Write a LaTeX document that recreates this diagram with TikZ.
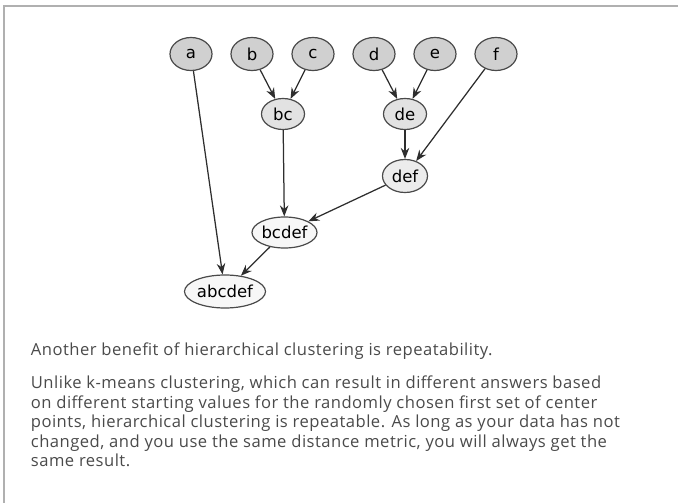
\documentclass[tikz,border=0pt]{standalone}
\usepackage{fontspec}
\setmainfont[LetterSpace=2.9]{Open Sans}
\newfontfamily\graphfont{DejaVu Sans}
\usetikzlibrary{shapes.geometric,arrows.meta}
\definecolor{leaffill}{HTML}{D0D0D0}
\definecolor{midfill}{HTML}{E2E2E2}
\definecolor{highfill}{HTML}{ECECEC}
\definecolor{rootfill}{HTML}{F7F7F7}
\definecolor{rimgray}{HTML}{4A4A4A}
\definecolor{edgegray}{HTML}{2E2E2E}
\definecolor{bodytext}{HTML}{4A4A4A}
\definecolor{framegray}{HTML}{B0B0B0}
\tikzset{
  cluster/.style={ellipse, draw=rimgray, line width=1.2pt, inner sep=0pt,
    font=\graphfont\fontsize{16.5}{17}\selectfont, text=black},
  leaf/.style={cluster, fill=leaffill, minimum width=42pt, minimum height=33pt},
  merge/.style={cluster, minimum height=31pt},
  link/.style={draw=edgegray, line width=1.25pt, -{Stealth[length=11pt,width=8.5pt]}},
  bodyline/.style={anchor=base west, inner sep=0pt, text=bodytext,
    font=\fontsize{16.6}{19.6}\selectfont}
}
\begin{document}
\begin{tikzpicture}[x=1pt,y=-1pt]
  \useasboundingbox (0,0) rectangle (678,503);
  % frame: top and left rules
  \draw[framegray, line width=2pt] (3.5,503) -- (3.5,6.5) -- (678,6.5);

  % leaves
  \node[leaf] (a) at (191,54) {a};
  \node[leaf] (b) at (252,54) {b};
  \node[leaf] (c) at (313,54) {c};
  \node[leaf] (d) at (374,54) {d};
  \node[leaf] (e) at (435,54) {e};
  \node[leaf] (f) at (496,54) {f};

  % merged clusters
  \node[merge, fill=midfill, minimum width=43pt] (bc) at (283,114) {bc};
  \node[merge, fill=midfill, minimum width=43pt] (de) at (405,114) {de};
  \node[merge, fill=highfill, minimum width=45pt, minimum height=33pt] (def) at (405,176) {def};
  \node[merge, fill=rootfill, minimum width=65pt] (bcdef) at (284.5,232.5) {bcdef};
  \node[merge, fill=rootfill, minimum width=81pt, minimum height=33pt] (abcdef) at (225,291.5) {abcdef};

  % merge edges
  \draw[link] (b) -- (bc);
  \draw[link] (c) -- (bc);
  \draw[link] (d) -- (de);
  \draw[link] (e) -- (de);
  \draw[link] (de) -- (def);
  \draw[link] (f) -- (def);
  \draw[link] (bc) -- (bcdef);
  \draw[link] (def) -- (bcdef);
  \draw[link] (a) -- (abcdef);
  \draw[link] (bcdef) -- (abcdef);

  % caption text
  \node[bodyline] (lead) at (30.7,355) {Another benefit of hierarchical clustering is repeatability.};
  \node[bodyline] (body1) at (30.7,388.5) {Unlike k-means clustering, which can result in different answers based};
  \node[bodyline] (body2) at (30.7,408) {on different starting values for the randomly chosen first set of center};
  \node[bodyline] (body3) at (30.7,427.5) {points, hierarchical clustering is repeatable. As long as your data has not};
  \node[bodyline] (body4) at (30.7,447) {changed, and you use the same distance metric, you will always get the};
  \node[bodyline] (body5) at (30.7,466.5) {same result.};
\end{tikzpicture}
\end{document}
